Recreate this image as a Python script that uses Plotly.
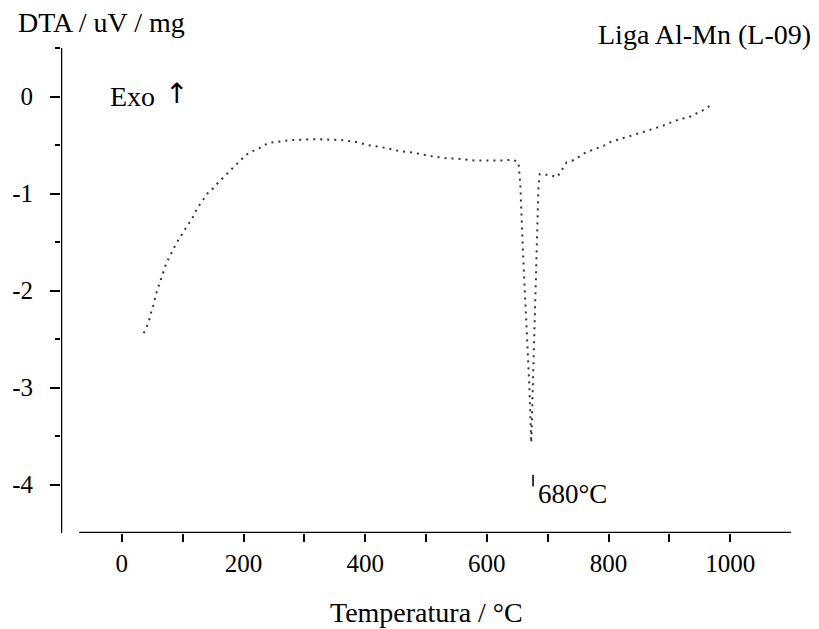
import plotly.graph_objects as go

# DTA curve (temperature in °C, signal in uV/mg)
temperature = [36, 44, 48, 52, 56, 60, 64, 68, 73, 77, 81, 86, 89, 98, 111, 119, 123,
               132, 139, 143, 148, 156, 161, 166, 169, 185, 203, 209, 216, 224, 232,
               240, 276, 320, 363, 385, 404, 434, 454, 480, 503, 536, 552, 579, 626,
               643, 652, 655, 659, 666, 670, 673, 682, 684, 685, 687, 703, 716,
               731, 741, 754, 762, 770, 782, 795, 803, 830, 860, 890, 918, 930, 943,
               951, 959, 970]
dta = [-2.44, -2.33, -2.23, -2.15, -2.04, -1.96, -1.88, -1.80, -1.72, -1.67, -1.62,
       -1.57, -1.52, -1.43, -1.30, -1.22, -1.16, -1.08, -1.01, -0.98, -0.96, -0.90,
       -0.87, -0.84, -0.82, -0.72, -0.61, -0.58, -0.56, -0.54, -0.51, -0.48, -0.45,
       -0.44, -0.45, -0.47, -0.50, -0.53, -0.56, -0.58, -0.61, -0.64, -0.64, -0.66,
       -0.66, -0.65, -0.68, -0.90, -1.55, -2.45, -3.0, -3.57, -1.67, -1.2, -0.91,
       -0.80, -0.81, -0.83, -0.68, -0.66, -0.61, -0.58, -0.56, -0.53, -0.50, -0.47,
       -0.42, -0.36, -0.30, -0.23, -0.22, -0.18, -0.16, -0.13, -0.08]

x_range = [-100, 1100]
y_range = [-4.5, 0.5]
x_tick_vals = [0, 200, 400, 600, 800, 1000]
x_tick_text = ["0", "200", "400", "600", "800", "1000"]
x_minor_vals = [100, 300, 500, 700, 900]
y_tick_vals = [0, -1, -2, -3, -4]
y_tick_text = ["0", "-1", "-2", "-3", "-4"]
y_minor_vals = [0.5, -0.5, -1.5, -2.5, -3.5]
peak_label_temp = 676
peak_label = "680°C"

FONT = "Liberation Serif, Times New Roman, serif"
INK = "#333333"

fig = go.Figure()
fig.add_trace(go.Scatter(
    x=temperature, y=dta, mode="lines",
    line=dict(color=INK, width=2, dash="2px,5px"),
    showlegend=False, hoverinfo="skip"))

# axis lines
fig.add_shape(type="line", xref="x", yref="y", x0=-70, x1=x_range[1], y0=y_range[0], y1=y_range[0],
              line=dict(color="black", width=2.5))
fig.add_shape(type="line", xref="x", yref="y", x0=x_range[0], x1=x_range[0], y0=y_range[0], y1=y_range[1],
              line=dict(color="black", width=2.5))
# small leader tick for the peak label
fig.add_shape(type="line", xref="x", yref="y", x0=peak_label_temp, x1=peak_label_temp, y0=-3.9, y1=-4.02,
              line=dict(color=INK, width=2))

fig.add_annotation(text="DTA / uV / mg", xref="paper", yref="paper", x=-0.062, y=1.052,
                   xanchor="left", yanchor="middle", showarrow=False,
                   font=dict(family=FONT, size=28, color="black"))
fig.add_annotation(text="Liga Al-Mn (L-09)", xref="paper", yref="paper", x=1.03, y=1.027,
                   xanchor="right", yanchor="middle", showarrow=False,
                   font=dict(family=FONT, size=28, color="black"))
fig.add_annotation(text="Exo", xref="x", yref="y", x=-22, y=0.0,
                   xanchor="left", yanchor="middle", showarrow=False,
                   font=dict(family=FONT, size=28, color="black"))
fig.add_annotation(text="↑", xref="x", yref="y", x=90, y=0.03,
                   xanchor="center", yanchor="middle", showarrow=False,
                   font=dict(family="DejaVu Sans, sans-serif", size=28, color="black"))
fig.add_annotation(text=peak_label, xref="x", yref="y", x=peak_label_temp + 4, y=-4.1,
                   xanchor="left", yanchor="middle", showarrow=False,
                   font=dict(family=FONT, size=27, color="black"))
fig.add_annotation(text="Temperatura / °C", xref="paper", yref="paper", x=0.5, y=-0.163,
                   xanchor="center", yanchor="middle", showarrow=False,
                   font=dict(family=FONT, size=28, color="black"))

fig.update_layout(
    width=819, height=629,
    margin=dict(l=59, r=28, t=48, b=96),
    paper_bgcolor="white", plot_bgcolor="white",
    font=dict(family=FONT, size=25, color="black"),
    xaxis=dict(range=x_range, showgrid=False, zeroline=False, showline=False,
               tickmode="array", tickvals=x_tick_vals, ticktext=x_tick_text,
               ticks="outside", ticklen=8, tickwidth=2, tickcolor="black",
               ticklabelstandoff=0,
               minor=dict(tickmode="array", tickvals=x_minor_vals, ticks="outside",
                          ticklen=8, tickwidth=2, tickcolor="black"),
               tickfont=dict(family=FONT, size=25, color="black")),
    yaxis=dict(range=y_range, showgrid=False, zeroline=False, showline=False,
               tickmode="array", tickvals=y_tick_vals, ticktext=y_tick_text,
               ticks="outside", ticklen=10, tickwidth=2, tickcolor="black",
               ticklabelstandoff=12,
               minor=dict(tickmode="array", tickvals=y_minor_vals, ticks="outside",
                          ticklen=5, tickwidth=2, tickcolor="black"),
               tickfont=dict(family=FONT, size=25, color="black")),
)

fig.write_html("out.html")
